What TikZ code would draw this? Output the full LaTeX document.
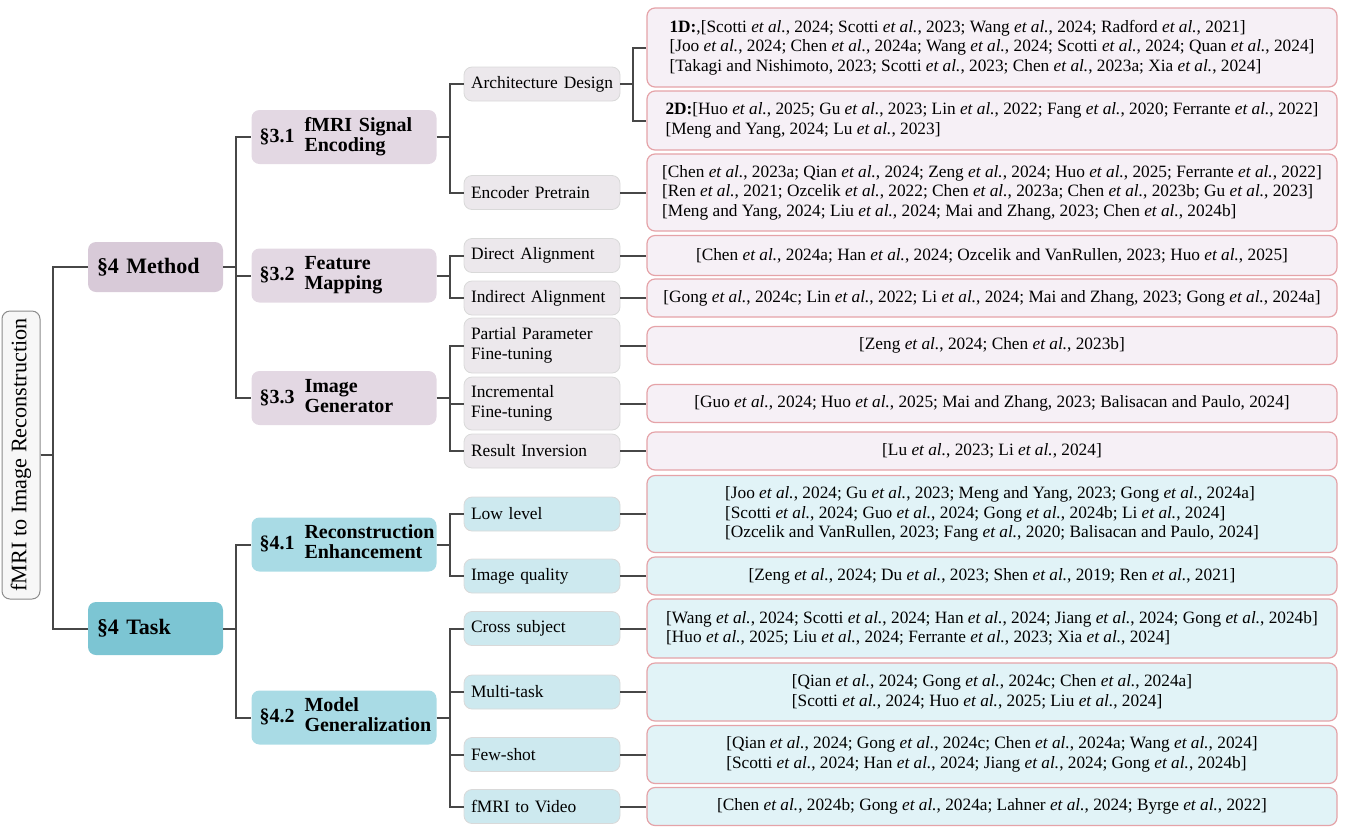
\documentclass[tikz,border=0pt]{standalone}
\usepackage{fontspec}
\setmainfont{Liberation Serif}

\definecolor{linkgray}{HTML}{474747}
\definecolor{methodfill}{HTML}{D8CAD8}
\definecolor{secpfill}{HTML}{E3D8E3}
\definecolor{midpfill}{HTML}{ECE8EC}
\definecolor{leafpfill}{HTML}{F6F0F6}
\definecolor{taskfill}{HTML}{7CC5D3}
\definecolor{secbfill}{HTML}{A9DBE5}
\definecolor{midbfill}{HTML}{CDE9EF}
\definecolor{leafbfill}{HTML}{E1F3F7}
\definecolor{leafborder}{HTML}{E5A3A8}

\newcommand\etal{\textit{et al.}}
\newcommand\rlist[1]{[#1]}
\newcommand\secname[3]{\makebox[22.5pt][l]{§#1}\begin{tabular}{@{}l@{}}#2\\#3\end{tabular}}

\begin{document}
\begin{tikzpicture}[
	x=0.5pt, y=-0.5pt,
	link/.style={draw=linkgray, line width=1pt},
	box/.style={rounded corners=4pt, inner ysep=0pt, anchor=center},
	rootbox/.style={box, draw=black!45, fill=black!3, line width=0.5pt, rotate=90,
		minimum width=144pt, minimum height=19pt, font=\fontsize{11.1}{13}\selectfont},
	topbox/.style={box, fill=#1, inner xsep=4.5pt, text width=58.5pt, align=left,
		font=\bfseries\fontsize{11}{13}\selectfont},
	secbox/.style={box, fill=#1, inner xsep=4pt, text width=84.5pt, align=left,
		minimum height=27pt, font=\bfseries\fontsize{10}{10}\selectfont},
	midbox/.style={box, fill=#1, draw=black!15, line width=0.4pt, inner xsep=3.5pt,
		text width=71pt, align=left, minimum height=17pt, font=\fontsize{8.7}{10}\selectfont},
	leaf/.style={box, fill=#1, draw=leafborder, line width=0.6pt, minimum width=345pt,
		align=left, minimum height=19pt, font=\fontsize{8.65}{9.75}\selectfont},
	]
\useasboundingbox (0,0) rectangle (1345,826);

% root and the two top branches
\node [rootbox] (root) at (21,455) {fMRI to Image Reconstruction};
\node [topbox=methodfill, minimum height=25pt] (method) at (155.5,267) {§4 Method};
\node [topbox=taskfill, minimum height=26.5pt] (task) at (155.5,628.5) {§4 Task};

% sections
\node [secbox=secpfill] (encoding) at (344,137) {\secname{3.1}{fMRI Signal}{Encoding}};
\node [secbox=secpfill] (mapping) at (344,275.5) {\secname{3.2}{Feature}{Mapping}};
\node [secbox=secpfill] (generator) at (344,398) {\secname{3.3}{Image}{Generator}};
\node [secbox=secbfill] (enhance) at (344,544.5) {\secname{4.1}{Reconstruction}{Enhancement}};
\node [secbox=secbfill] (general) at (344,717.5) {\secname{4.2}{Model}{Generalization}};

% sub-topics
\node [midbox=midpfill] (arch) at (542,84) {\mbox{Architecture Design}};
\node [midbox=midpfill] (pretrain) at (542,192.5) {Encoder Pretrain};
\node [midbox=midpfill] (direct) at (542,255.5) {Direct Alignment};
\node [midbox=midpfill] (indirect) at (542,298) {Indirect Alignment};
\node [midbox=midpfill, minimum height=27.5pt] (partial) at (542,345.5) {Partial Parameter\\Fine-tuning};
\node [midbox=midpfill, minimum height=26.5pt] (increment) at (542,403.5) {Incremental\\Fine-tuning};
\node [midbox=midpfill] (inversion) at (542,451) {Result Inversion};
\node [midbox=midbfill] (lowlevel) at (542,514) {Low level};
\node [midbox=midbfill] (quality) at (542,576) {Image quality};
\node [midbox=midbfill] (cross) at (542,628.5) {Cross subject};
\node [midbox=midbfill] (multitask) at (542,692) {Multi-task};
\node [midbox=midbfill] (fewshot) at (542,754.5) {Few-shot};
\node [midbox=midbfill] (video) at (542,806.5) {fMRI to Video};

% references
\node [leaf=leafpfill, minimum height=39.5pt] (arch1d) at (992,47.5) {\textbf{1D:},\rlist{Scotti \etal, 2024; Scotti \etal, 2023; Wang \etal, 2024; Radford \etal, 2021}\\\rlist{Joo \etal, 2024; Chen \etal, 2024a; Wang \etal, 2024; Scotti \etal, 2024; Quan \etal, 2024}\\\rlist{Takagi and Nishimoto, 2023; Scotti \etal, 2023; Chen \etal, 2023a; Xia \etal, 2024}};
\node [leaf=leafpfill, minimum height=29.5pt] (arch2d) at (992,120.5) {\textbf{2D:}\rlist{Huo \etal, 2025; Gu \etal, 2023; Lin \etal, 2022; Fang \etal, 2020; Ferrante \etal, 2022}\\\rlist{Meng and Yang, 2024; Lu \etal, 2023}};
\node [leaf=leafpfill, minimum height=38.5pt] (pretrainref) at (992,192.5) {\rlist{Chen \etal, 2023a; Qian \etal, 2024; Zeng \etal, 2024; Huo \etal, 2025; Ferrante \etal, 2022}\\\rlist{Ren \etal, 2021; Ozcelik \etal, 2022; Chen \etal, 2023a; Chen \etal, 2023b; Gu \etal, 2023}\\\rlist{Meng and Yang, 2024; Liu \etal, 2024; Mai and Zhang, 2023; Chen \etal, 2024b}};
\node [leaf=leafpfill, minimum height=20pt] (directref) at (992,255.5) {\rlist{Chen \etal, 2024a; Han \etal, 2024; Ozcelik and VanRullen, 2023; Huo \etal, 2025}};
\node [leaf=leafpfill] (indirectref) at (992,298) {\rlist{Gong \etal, 2024c; Lin \etal, 2022; Li \etal, 2024; Mai and Zhang, 2023; Gong \etal, 2024a}};
\node [leaf=leafpfill] (partialref) at (992,345.5) {\rlist{Zeng \etal, 2024; Chen \etal, 2023b}};
\node [leaf=leafpfill] (incrementref) at (992,403.5) {\rlist{Guo \etal, 2024; Huo \etal, 2025; Mai and Zhang, 2023; Balisacan and Paulo, 2024}};
\node [leaf=leafpfill] (inversionref) at (992,451) {\rlist{Lu \etal, 2023; Li \etal, 2024}};
\node [leaf=leafbfill, minimum height=38.5pt] (lowlevelref) at (992,514) {\rlist{Joo \etal, 2024; Gu \etal, 2023; Meng and Yang, 2023; Gong \etal, 2024a}\\\rlist{Scotti \etal, 2024; Guo \etal, 2024; Gong \etal, 2024b; Li \etal, 2024}\\\rlist{Ozcelik and VanRullen, 2023; Fang \etal, 2020; Balisacan and Paulo, 2024}};
\node [leaf=leafbfill] (qualityref) at (992,576) {\rlist{Zeng \etal, 2024; Du \etal, 2023; Shen \etal, 2019; Ren \etal, 2021}};
\node [leaf=leafbfill, minimum height=29.5pt] (crossref) at (992,628.5) {\rlist{Wang \etal, 2024; Scotti \etal, 2024; Han \etal, 2024; Jiang \etal, 2024; Gong \etal, 2024b}\\\rlist{Huo \etal, 2025; Liu \etal, 2024; Ferrante \etal, 2023; Xia \etal, 2024}};
\node [leaf=leafbfill, minimum height=29pt] (multitaskref) at (992,692) {\rlist{Qian \etal, 2024; Gong \etal, 2024c; Chen \etal, 2024a}\\\rlist{Scotti \etal, 2024; Huo \etal, 2025; Liu \etal, 2024}};
\node [leaf=leafbfill, minimum height=29pt] (fewshotref) at (992,754.5) {\rlist{Qian \etal, 2024; Gong \etal, 2024c; Chen \etal, 2024a; Wang \etal, 2024}\\\rlist{Scotti \etal, 2024; Han \etal, 2024; Jiang \etal, 2024; Gong \etal, 2024b}};
\node [leaf=leafbfill] (videoref) at (992,806.5) {\rlist{Chen \etal, 2024b; Gong \etal, 2024a; Lahner \etal, 2024; Byrge \etal, 2022}};

% elbow connectors
\draw [link] (root.south) -- ++(12,0) |- (method.west);
\draw [link] (root.south) -- ++(12,0) |- (task.west);
\foreach \src/\dst in {method/encoding, method/mapping, method/generator, task/enhance, task/general,
	encoding/arch, encoding/pretrain, mapping/direct, mapping/indirect,
	generator/partial, generator/increment, generator/inversion,
	enhance/lowlevel, enhance/quality,
	general/cross, general/multitask, general/fewshot, general/video,
	arch/arch1d, arch/arch2d, pretrain/pretrainref, direct/directref, indirect/indirectref,
	partial/partialref, increment/incrementref, inversion/inversionref,
	lowlevel/lowlevelref, quality/qualityref, cross/crossref, multitask/multitaskref,
	fewshot/fewshotref, video/videoref}
	\draw [link] (\src.east) -- ++(13,0) |- (\dst.west);
\end{tikzpicture}
\end{document}
